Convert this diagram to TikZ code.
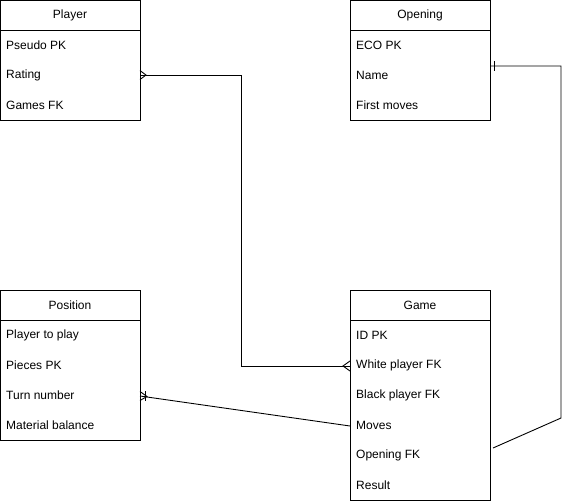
\documentclass[tikz,border=0pt]{standalone}
\usepackage{fontspec}
\setmainfont{Liberation Sans}
\begin{document}
\begin{tikzpicture}[x=1pt,y=-1pt,
  entity/.style={draw,line width=0.9pt,minimum width=140pt,inner sep=0pt,anchor=north west},
  title/.style={font=\fontsize{12}{14}\selectfont,inner sep=0pt},
  field/.style={font=\fontsize{12}{14}\selectfont,inner sep=0pt,anchor=west},
  conn/.style={line width=0.9pt}]
\useasboundingbox (0,0) rectangle (569,501);

% Player
\node[entity,minimum height=120pt] (player) at (0,0) {};
\node[title] (player-t) at (70,15) {Player};
\draw[line width=0.9pt] (0,30) -- (140,30);
\node[field] (pl-pk) at (6,45) {Pseudo PK};
\node[field] (pl-rating) at (6,75) {Rating};
\node[field] (pl-games) at (6,105) {Games FK};

% Opening
\node[entity,minimum height=120pt] (opening) at (350,0) {};
\node[title] (op-t) at (420,15) {Opening};
\draw[line width=0.9pt] (350,30) -- (490,30);
\node[field] (op-eco) at (356,45) {ECO PK};
\node[field] (op-name) at (356,75) {Name};
\node[field] (op-moves) at (356,105) {First moves};

% Position
\node[entity,minimum height=150pt] (position) at (0,290) {};
\node[title] (po-t) at (70,305) {Position};
\draw[line width=0.9pt] (0,320) -- (140,320);
\node[field] (po-play) at (6,335) {Player to play};
\node[field] (po-pieces) at (6,365) {Pieces PK};
\node[field] (po-turn) at (6,395) {Turn number};
\node[field] (po-mat) at (6,425) {Material balance};

% Game
\node[entity,minimum height=210pt] (game) at (350,290) {};
\node[title] (ga-t) at (420,305) {Game};
\draw[line width=0.9pt] (350,320) -- (490,320);
\node[field] (ga-id) at (356,335) {ID PK};
\node[field] (ga-white) at (356,365) {White player FK};
\node[field] (ga-black) at (356,395) {Black player FK};
\node[field] (ga-moves) at (356,425) {Moves};
\node[field] (ga-open) at (356,455) {Opening FK};
\node[field] (ga-res) at (356,485) {Result};

% connector end points on the box edges
\coordinate (c-rating) at (140,75);
\coordinate (c-white) at (350,366);
\coordinate (c-name) at (490,66);
\coordinate (c-open) at (493,448);
\coordinate (c-turn) at (140,396);
\coordinate (c-moves) at (350,426);

% Player.Rating -- Game.White player (many to many)
\draw[conn] (c-rating) -- (241,75) |- (c-white);
\draw[conn] (c-rating)+(0,-4.5) -- (146,75) -- ++(-6,4.5);
\draw[conn] (c-white)+(0,-5) -- (343,366) -- ++(7,5);

% Opening.Name -- Game.Opening FK (one)
\draw[conn] (c-name) -- (561,66) -- (561,418) -- (c-open);
\draw[conn] (494,61) -- (494,71);

% Position.Turn number -- Game.Moves (one or many)
\draw[conn] (c-turn) -- (c-moves);
\draw[conn] (c-turn)+(0,-4.5) -- (147,396.5) -- (140,400.5);
\draw[conn] (145,391) -- (145,401);
\end{tikzpicture}
\end{document}
